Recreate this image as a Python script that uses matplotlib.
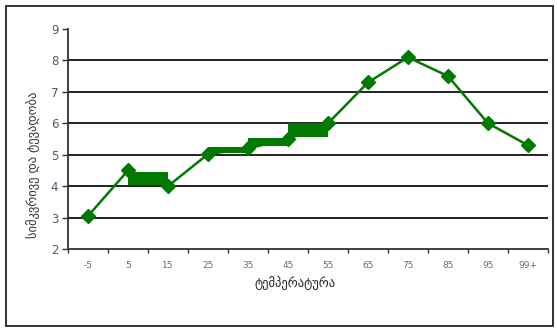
import matplotlib.pyplot as plt

# ---------------- data ----------------
categories = ["-5", "5", "15", "25", "35", "45", "55", "65", "75", "85", "95", "99+"]
values = [3.05, 4.5, 4.0, 5.02, 5.2, 5.5, 6.0, 7.3, 8.1, 7.5, 6.0, 5.3]

# thick green blocks between neighbouring categories
band_start = ["5", "25", "35", "45"]
band_end = ["15", "35", "45", "55"]
band_low = [4.05, 5.05, 5.28, 5.55]
band_high = [4.45, 5.23, 5.53, 6.0]

xlabel = "ტემპერატურა"
ylabel = "სიმკვრივე და ტევადობა"

green = "#007a00"
W, H = 557, 329

fig = plt.figure(figsize=(W / 100, H / 100), dpi=100)
ax = fig.add_axes([68 / W, 1 - 249 / H, 480 / W, 220 / H])

x = list(range(len(categories)))
ax.plot(x, values, color=green, lw=1.8, marker="D", ms=7, zorder=3)

for s, e, lo, hi in zip(band_start, band_end, band_low, band_high):
    i0, i1 = categories.index(s), categories.index(e)
    ax.fill_between([i0, i1], [lo, lo], [hi, hi], color=green, lw=0, zorder=4)

# grid lines
for yv in range(3, 9):
    ax.axhline(yv, color="#222222", lw=1.4, zorder=1)

ax.set_xlim(-0.5, len(categories) - 0.5)
ax.set_ylim(2, 9)
ax.set_yticks(range(2, 10))
ax.set_yticklabels([str(v) for v in range(2, 10)], fontsize=8.5, color="#555570")
ax.set_xticks(x)
ax.set_xticklabels(categories, fontsize=6.5, color="#607070")
ax.set_xticks([i - 0.5 for i in range(len(categories) + 1)], minor=True)
ax.tick_params(axis="x", which="major", length=0, pad=9)
ax.tick_params(axis="x", which="minor", length=3, width=1, color="#333333", direction="out")
ax.tick_params(axis="y", length=4, width=1, color="#333333", pad=3)

for side in ["top", "right"]:
    ax.spines[side].set_visible(False)
for side in ["left", "bottom"]:
    ax.spines[side].set_color("#333333")
    ax.spines[side].set_linewidth(1.3)

fig.text(295 / W, 1 - 283 / H, xlabel, ha="center", va="center", fontsize=9, color="#222222")
fig.text(33 / W, 1 - 165 / H, ylabel, ha="center", va="center", rotation=90,
         fontsize=9, color="#333333")

# outer frame
frame = plt.Rectangle((6 / W, 1 - 326 / H), 547 / W, 320 / H, transform=fig.transFigure,
                      fill=False, edgecolor="#222222", lw=1.3)
fig.patches.append(frame)

fig.savefig("out.png", dpi=100)
